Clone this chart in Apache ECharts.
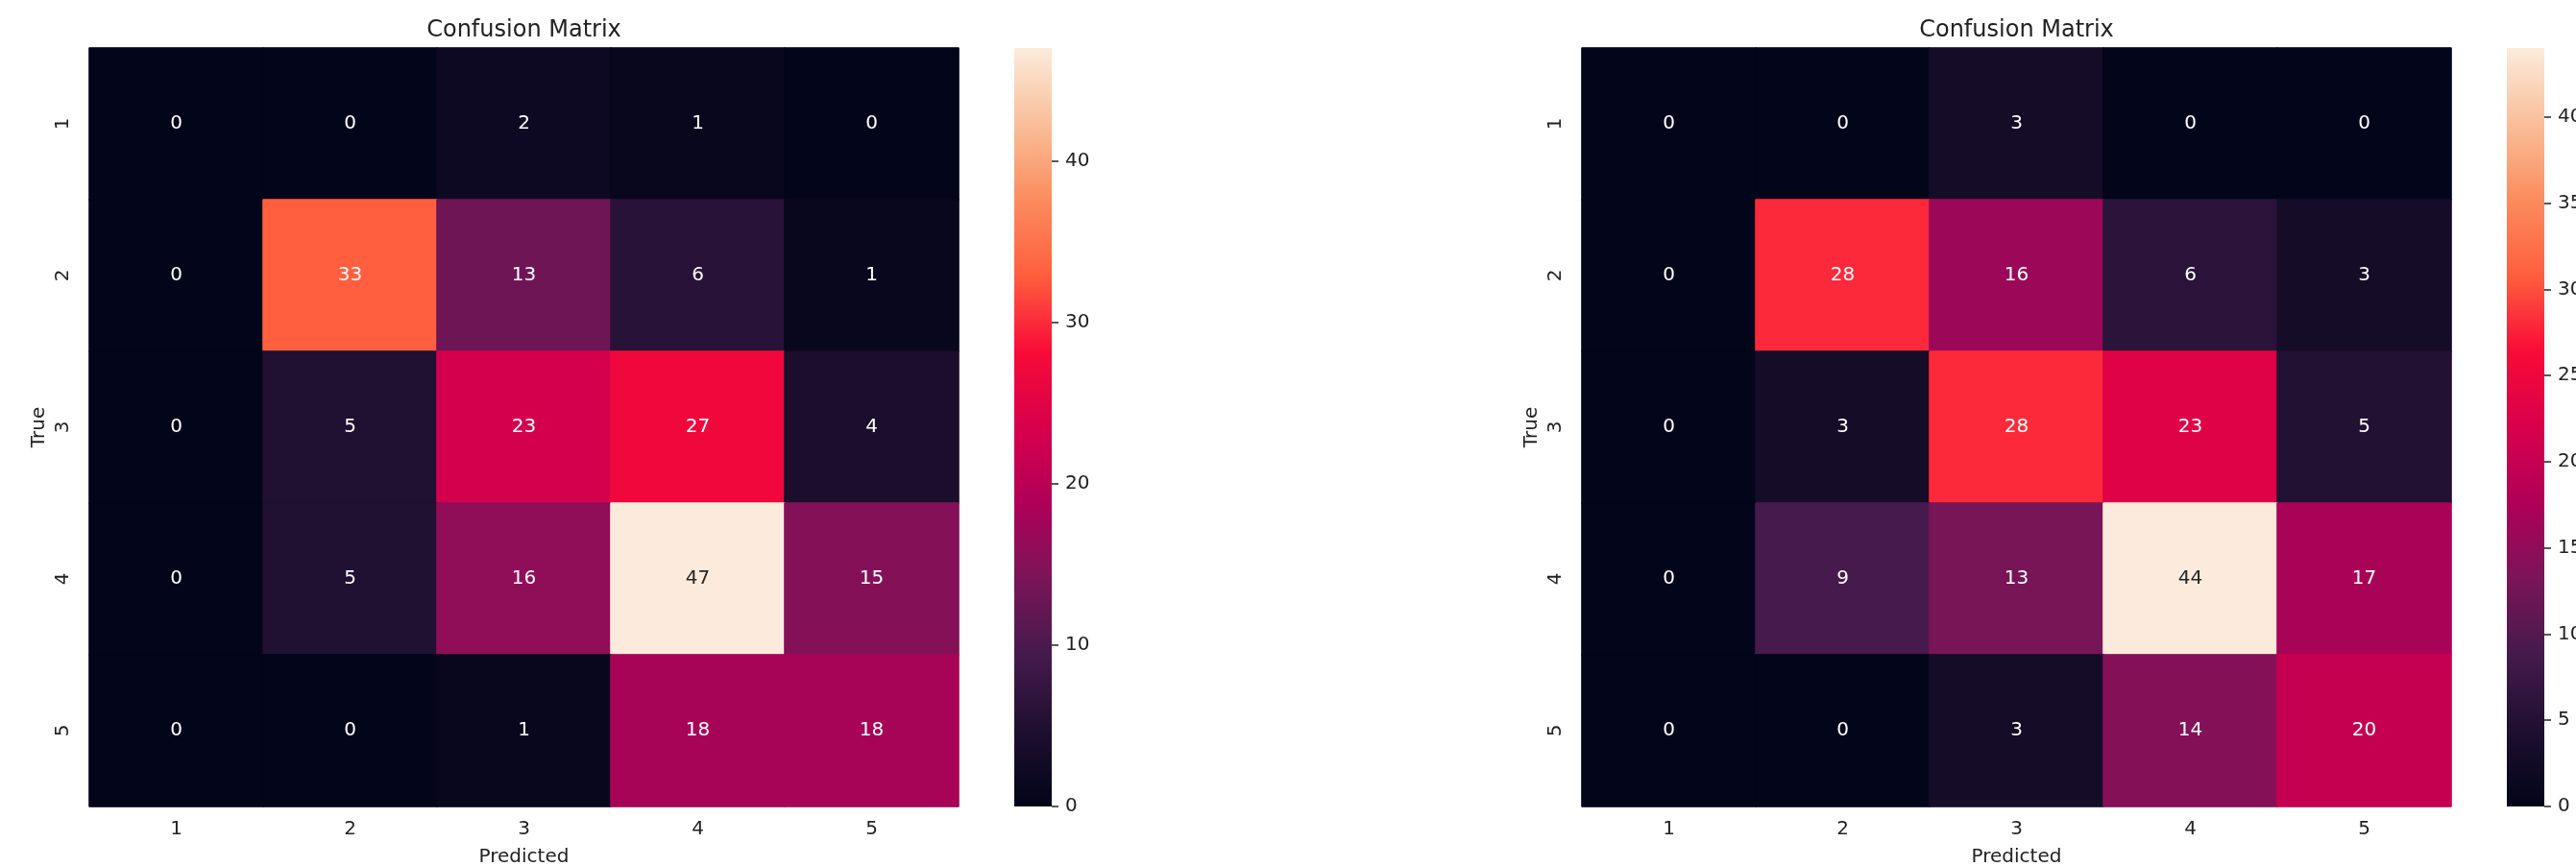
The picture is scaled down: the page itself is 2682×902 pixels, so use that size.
<!DOCTYPE html>
<html>
<head>
<meta charset="utf-8">
<script src="https://cdn.jsdelivr.net/npm/echarts@6/dist/echarts.min.js"></script>
<style>
  html, body { margin: 0; padding: 0; background: #fff; }
  #chart { width: 2682px; height: 902px; }
</style>
</head>
<body>
<div id="chart"></div>
<script>
// class labels (True rows / Predicted columns)
const classes = ['1', '2', '3', '4', '5'];

// confusion matrices, rows = true class, cols = predicted class
const cmLeft = [
  [0, 0, 2, 1, 0],
  [0, 33, 13, 6, 1],
  [0, 5, 23, 27, 4],
  [0, 5, 16, 47, 15],
  [0, 0, 1, 18, 18]
];
const cmRight = [
  [0, 0, 3, 0, 0],
  [0, 28, 16, 6, 3],
  [0, 3, 28, 23, 5],
  [0, 9, 13, 44, 17],
  [0, 0, 3, 14, 20]
];

// colorbar tick labels
const leftBarTicks = [0, 10, 20, 30, 40];
const rightBarTicks = [0, 5, 10, 15, 20, 25, 30, 35, 40];

// rocket-like colormap
const rocket = ['#03051A', '#1E0F2F', '#451A4C', '#7A1558', '#B00058', '#D8004C',
  '#F80B38', '#FF5E3E', '#FB8C5E', '#F9BE99', '#FCEBDC'];

const font = 'DejaVu Sans';
const txt = '#222';

const maxOf = m => Math.max(...m.flat());

function cells(m) {
  const vmax = maxOf(m);
  const out = [];
  m.forEach((row, i) => {
    row.forEach((v, j) => {
      out.push({
        value: [j, i, v],
        // border in the cell's own colour hides seams between cells
        itemStyle: { borderWidth: 1, borderColor: echarts.color.lerp(v / vmax, rocket) },
        label: { color: v / vmax > 0.8 ? '#262626' : '#fff' }
      });
    });
  });
  return out;
}

// gradient for the colorbar, bottom (0) to top (max)
const barGradient = new echarts.graphic.LinearGradient(0, 1, 0, 0,
  rocket.map((c, i) => ({ offset: i / (rocket.length - 1), color: c })));

// layout: heatmap box + colorbar box for each panel
const panels = [
  { m: cmLeft, ticks: leftBarTicks, hx: 93, cx: 1056 },
  { m: cmRight, ticks: rightBarTicks, hx: 1647, cx: 2610 }
];
const plotTop = 50, plotH = 790, plotW = 905, barW = 39;

const grid = [], xAxis = [], yAxis = [], heatSeries = [], barSeries = [], visualMap = [], title = [];

panels.forEach((p, k) => {
  const vmax = maxOf(p.m);
  const gHeat = grid.length;
  grid.push({ left: p.hx, top: plotTop, width: plotW, height: plotH, outerBoundsMode: 'none' });
  const gBar = grid.length;
  grid.push({ left: p.cx, top: plotTop, width: barW, height: plotH, outerBoundsMode: 'none' });

  title.push({
    text: 'Confusion Matrix',
    left: p.hx + plotW / 2,
    top: 20,
    padding: 0,
    textAlign: 'center',
    textStyle: { fontFamily: font, fontSize: 24, fontWeight: 'normal', color: txt }
  });

  xAxis.push({
    type: 'category',
    gridIndex: gHeat,
    data: classes,
    axisLine: { show: false },
    axisTick: { alignWithLabel: true, length: 7, lineStyle: { color: txt, width: 1.5 } },
    axisLabel: { fontFamily: font, fontSize: 20, color: txt, margin: 14 },
    splitLine: { show: false },
    name: 'Predicted',
    nameLocation: 'middle',
    nameGap: 43,
    nameTextStyle: { fontFamily: font, fontSize: 20, color: txt }
  });
  yAxis.push({
    type: 'category',
    gridIndex: gHeat,
    data: classes,
    inverse: true,
    axisLine: { show: false },
    axisTick: { alignWithLabel: true, length: 7, lineStyle: { color: txt, width: 1.5 } },
    axisLabel: { fontFamily: font, fontSize: 20, color: txt, margin: 17, rotate: 90 },
    splitLine: { show: false },
    name: 'True',
    nameLocation: 'middle',
    nameGap: 42,
    nameTextStyle: { fontFamily: font, fontSize: 20, color: txt }
  });

  // colorbar
  xAxis.push({ type: 'category', gridIndex: gBar, show: false, data: ['bar'] });
  yAxis.push({
    type: 'value',
    gridIndex: gBar,
    min: 0,
    max: vmax,
    position: 'right',
    axisLine: { show: false },
    splitLine: { show: false },
    axisTick: { show: true, length: 7, customValues: p.ticks, lineStyle: { color: txt, width: 1.5 } },
    axisLabel: { fontFamily: font, fontSize: 20, color: txt, margin: 14, customValues: p.ticks }
  });

  heatSeries.push({
    type: 'heatmap',
    xAxisIndex: gHeat,
    yAxisIndex: gHeat,
    data: cells(p.m),
    label: {
      show: true,
      fontFamily: font,
      fontSize: 20,
      formatter: d => d.value[2]
    },
    emphasis: { disabled: true }
  });

  barSeries.push({
    type: 'bar',
    xAxisIndex: gBar,
    yAxisIndex: gBar,
    data: [vmax],
    barWidth: '100%',
    itemStyle: { color: barGradient },
    emphasis: { disabled: true },
    silent: true
  });

  visualMap.push({
    type: 'continuous',
    show: false,
    seriesIndex: k,
    min: 0,
    max: vmax,
    inRange: { color: rocket }
  });
});

const chart = echarts.init(document.getElementById('chart'));
chart.setOption({
  backgroundColor: '#fff',
  animation: false,
  title: title,
  grid: grid,
  xAxis: xAxis,
  yAxis: yAxis,
  visualMap: visualMap,
  series: heatSeries.concat(barSeries)
});
</script>
</body>
</html>
